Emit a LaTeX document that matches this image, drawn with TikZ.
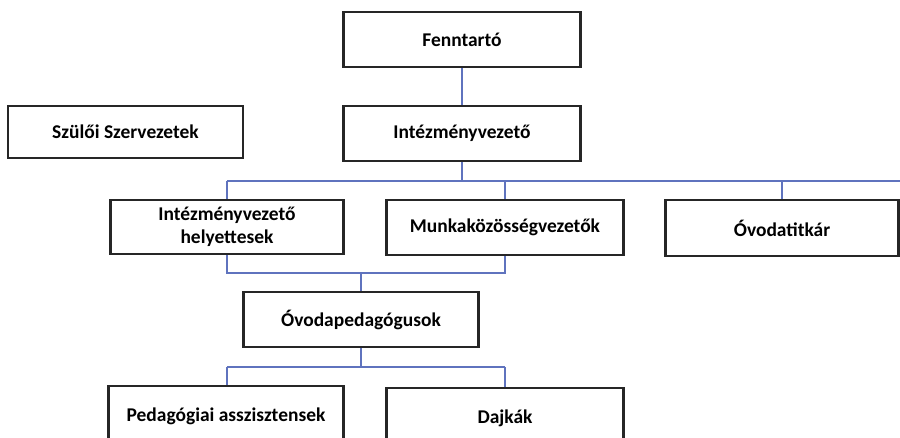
\documentclass[tikz,border=0pt]{standalone}
\usepackage{fontspec}
\setmainfont{Carlito}
\definecolor{lineblue}{RGB}{95,115,190}
\begin{document}
\begin{tikzpicture}[x=0.75pt,y=-0.75pt,
  box/.style={draw=black!85,line width=1.6pt,fill=white,inner sep=0pt,align=center,font=\bfseries\fontsize{14.6}{17}\selectfont},
  conn/.style={draw=lineblue,line width=1.1pt}]
\useasboundingbox (0,0) rectangle (900,438);
\clip (0,0) rectangle (900,438);
\fill[white] (0,0) rectangle (900,438);
\coordinate (h1l) at (227,181);
\coordinate (h1r) at (905,181);
\coordinate (j1) at (462,181);
\coordinate (j2) at (505,181);
\coordinate (j3) at (782,181);
\coordinate (h2l) at (227,273);
\coordinate (h2m) at (361,273);
\coordinate (h2r) at (505,273);
\coordinate (h3l) at (227,367);
\coordinate (h3m) at (361,367);
\coordinate (h3r) at (505,367);
\node[box,minimum width=237*0.75pt,minimum height=55*0.75pt] (fen) at (462,39.5) {Fenntartó};
\node[box,minimum width=235*0.75pt,minimum height=52*0.75pt] (szu) at (125.5,132) {Szülői Szervezetek};
\node[box,minimum width=237*0.75pt,minimum height=55*0.75pt] (int) at (462,133.5) {Intézményvezető};
\node[box,minimum width=233*0.75pt,minimum height=54*0.75pt] (hely) at (227,227) {Intézményvezető\\helyettesek};
\node[box,minimum width=237*0.75pt,minimum height=55*0.75pt] (mun) at (505,227.5) {Munkaközösségvezetők};
\node[box,minimum width=233*0.75pt,minimum height=56*0.75pt] (ovt) at (782,228) {Óvodatitkár};
\node[box,minimum width=235*0.75pt,minimum height=55*0.75pt] (ovp) at (361,319.5) {Óvodapedagógusok};
\node[box,minimum width=235*0.75pt,minimum height=60*0.75pt] (ped) at (226,416) {Pedagógiai asszisztensek};
\node[box,minimum width=237*0.75pt,minimum height=60*0.75pt] (daj) at (505,418) {Dajkák};
\draw[conn] (fen.south) -- (int.north);
\draw[conn] (int.south) -- (j1);
\draw[conn] (h1l) -- (h1r);
\draw[conn] (h1l) -- (hely.north);
\draw[conn] (j2) -- (mun.north);
\draw[conn] (j3) -- (ovt.north);
\draw[conn] (hely.south) -- (h2l) -- (h2r) -- (mun.south);
\draw[conn] (h2m) -- (ovp.north);
\draw[conn] (ovp.south) -- (h3m);
\draw[conn] (h3l) -- (h3r);
\draw[conn] (h3l) -- (h3l |- ped.north);
\draw[conn] (h3r) -- (daj.north);
\end{tikzpicture}
\end{document}
